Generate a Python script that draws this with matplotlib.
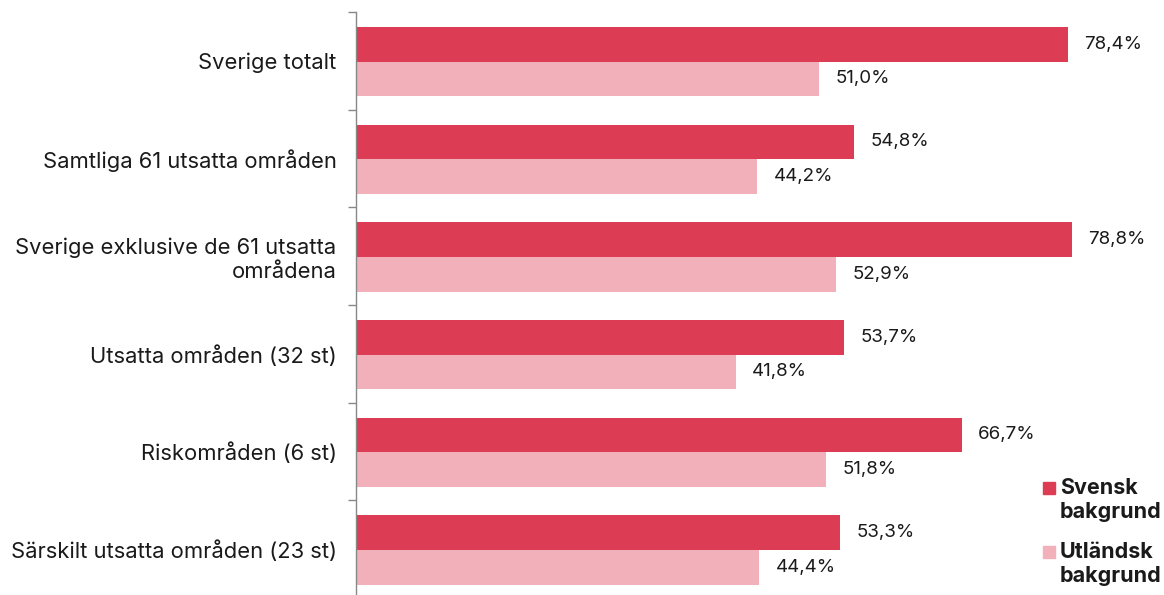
import matplotlib
matplotlib.use("Agg")
import matplotlib.pyplot as plt
from matplotlib.patches import Rectangle
import numpy as np

categories = [
    "Sverige totalt",
    "Samtliga 61 utsatta områden",
    "Sverige exklusive de 61 utsatta\nområdena",
    "Utsatta områden (32 st)",
    "Riskområden (6 st)",
    "Särskilt utsatta områden (23 st)",
]
svensk = [78.4, 54.8, 78.8, 53.7, 66.7, 53.3]
utlandsk = [51.0, 44.2, 52.9, 41.8, 51.8, 44.4]
series_names = ["Svensk\nbakgrund", "Utländsk\nbakgrund"]

c_dark = "#DC3D55"
c_light = "#F2B1BA"

plt.rcParams['font.family'] = ['Inter', 'DejaVu Sans']

fig = plt.figure(figsize=(11.64, 5.95), dpi=100)
ax = fig.add_axes([356/1164, -3/595, 1 - 356/1164, (595 - 12 + 3)/595])

y = np.arange(len(categories))
h = 0.354
off = 0.008
ax.barh(y + off - h/2, svensk, height=h, color=c_dark)
ax.barh(y + off + h/2, utlandsk, height=h, color=c_light)

for yi, v in zip(y, svensk):
    ax.annotate(f"{v:.1f}%".replace(".", ","), (v, yi + off - h/2), xytext=(12, 0),
                textcoords="offset points", va="center", ha="left", fontsize=13.5, color="#1a1a1a")
for yi, v in zip(y, utlandsk):
    ax.annotate(f"{v:.1f}%".replace(".", ","), (v, yi + off + h/2), xytext=(12, 0),
                textcoords="offset points", va="center", ha="left", fontsize=13.5, color="#1a1a1a")

ax.set_xlim(0, 808/9.08)
ax.set_ylim(len(categories) - 0.5, -0.5)
ax.set_yticks(y)
ax.set_yticklabels(categories, fontsize=15.8, color="#1a1a1a", linespacing=1.2)
ax.set_yticks(np.arange(-0.5, len(categories) + 0.5, 1), minor=True)
ax.tick_params(axis="y", which="major", length=0, pad=14)
ax.tick_params(axis="y", which="minor", length=5.5, width=1, color="#888888", direction="out")
ax.set_xticks([])
for s in ["top", "right", "bottom"]:
    ax.spines[s].set_visible(False)
ax.spines["left"].set_color("#888888")
ax.spines["left"].set_linewidth(1)

# legend
W, H = 1164, 595
for (ytop, col, name) in [(482, c_dark, series_names[0]), (546, c_light, series_names[1])]:
    fig.patches.append(Rectangle((1043/W, 1 - (ytop + 12)/H), 12/W, 12/H,
                                 transform=fig.transFigure, color=col))
    fig.text(1060/W, 1 - (ytop - 4)/H, name, ha="left", va="top", fontsize=15.5,
             fontweight="bold", color="#1a1a1a", linespacing=1.25)

fig.savefig("out.png", dpi=100)
